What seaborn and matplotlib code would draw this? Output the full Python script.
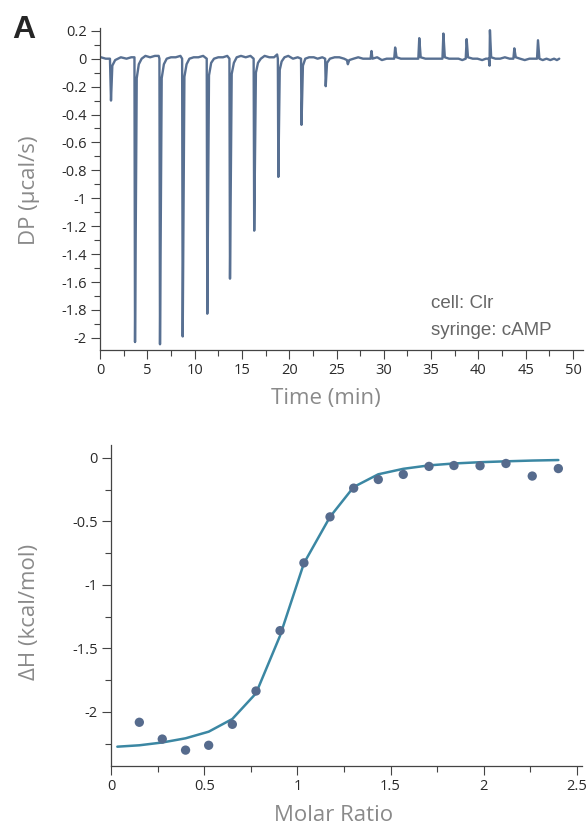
import numpy as np
import pandas as pd
import matplotlib
matplotlib.use('Agg')
import matplotlib.pyplot as plt
import seaborn as sns
from matplotlib.ticker import MultipleLocator

# raw thermogram (DP vs time), vertices
dp_time = [
    0.1, 0.6, 1.05, 1.16, 1.3, 1.6, 2.2, 2.8, 3.3, 3.64,
    3.70, 3.88, 4.1, 4.4, 4.8, 5.3, 5.8, 6.2, 6.28,
    6.34, 6.52, 6.75, 7.05, 7.5, 8.0, 8.5, 8.68,
    8.74, 8.92, 9.15, 9.45, 9.9, 10.4, 10.9, 11.28,
    11.34, 11.52, 11.75, 12.05, 12.5, 13.0, 13.45, 13.68,
    13.74, 13.92, 14.15, 14.45, 14.9, 15.4, 15.9, 16.24,
    16.3, 16.48, 16.7, 17.0, 17.4, 17.9, 18.4, 18.72, 18.8,
    18.85, 19.0, 19.2, 19.5, 19.9, 20.4, 20.9, 21.25,
    21.3, 21.45, 21.7, 22.1, 22.6, 23.0, 23.5, 23.8,
    23.86, 24.0, 24.3, 24.8, 25.3, 25.8, 26.1, 26.2, 26.35, 26.8,
    27.3, 27.8, 28.3, 28.6, 28.7, 28.8, 29.3, 29.8, 30.3, 30.8,
    31.1, 31.2, 31.35, 31.8, 32.3, 32.8, 33.3, 33.65, 33.75, 33.9,
    34.4, 34.9, 35.4, 35.9, 36.2, 36.3, 36.45, 36.9, 37.4, 37.9,
    38.3, 38.66, 38.76, 38.9, 39.4, 39.9, 40.4, 40.8, 41.1, 41.18,
    41.22, 41.35, 41.8, 42.3, 42.8, 43.3, 43.7, 43.8, 43.95, 44.4,
    44.9, 45.4, 45.9, 46.2, 46.3, 46.45, 46.8, 47.2, 47.6, 48.0,
    48.3, 48.55,
]
dp_value = [
    0.01, 0.0, 0.0, -0.30, -0.05, -0.01, 0.01, 0.0, 0.01, 0.01,
    -2.03, -0.14, -0.04, 0.0, 0.02, 0.01, 0.02, 0.02, 0.0,
    -2.046, -0.14, -0.04, 0.0, 0.01, 0.01, 0.02, 0.0,
    -1.99, -0.13, -0.04, 0.0, 0.01, 0.01, 0.02, 0.0,
    -1.827, -0.12, -0.03, 0.0, 0.01, 0.01, 0.02, 0.0,
    -1.576, -0.11, -0.03, 0.01, 0.02, 0.01, 0.02, 0.0,
    -1.232, -0.10, -0.03, 0.0, 0.02, 0.01, 0.01, 0.03, 0.0,
    -0.847, -0.08, -0.02, 0.01, 0.02, 0.0, 0.01, 0.0,
    -0.474, -0.05, 0.0, 0.01, 0.01, 0.0, 0.01, 0.0,
    -0.197, -0.03, 0.0, 0.01, 0.01, 0.0, -0.01, -0.04, -0.01, 0.0,
    0.01, 0.0, 0.0, 0.0, 0.055, 0.0, 0.01, -0.01, 0.0, 0.0,
    0.0, 0.08, 0.01, 0.0, 0.0, 0.0, 0.0, 0.0, 0.147, 0.01,
    0.0, 0.0, 0.0, 0.0, 0.0, 0.18, 0.01, 0.0, 0.0, 0.0,
    -0.01, 0.0, 0.14, 0.01, 0.0, 0.0, -0.01, 0.0, 0.0, -0.05,
    0.204, 0.01, 0.0, 0.0, 0.01, 0.0, 0.0, 0.074, 0.01, 0.0,
    -0.01, 0.0, 0.0, 0.0, 0.132, 0.0, -0.01, 0.0, -0.01, 0.0,
    -0.01, 0.0,
]

# integrated heats
molar_ratio = [0.152, 0.275, 0.40, 0.524, 0.651, 0.778, 0.907, 1.035, 1.175,
               1.302, 1.434, 1.568, 1.706, 1.84, 1.98, 2.119, 2.26, 2.40]
delta_h = [-2.081, -2.213, -2.30, -2.262, -2.097, -1.835, -1.36, -0.827, -0.465,
           -0.239, -0.171, -0.131, -0.068, -0.061, -0.063, -0.045, -0.144, -0.085]

# fitted curve
fit_ratio = [0.034, 0.152, 0.275, 0.40, 0.524, 0.651, 0.778, 0.907, 1.035, 1.175,
             1.302, 1.434, 1.568, 1.706, 1.84, 1.98, 2.119, 2.26, 2.40]
fit_dh = [-2.273, -2.262, -2.24, -2.207, -2.155, -2.055, -1.853, -1.40, -0.83, -0.465,
          -0.23, -0.13, -0.087, -0.06, -0.045, -0.035, -0.028, -0.022, -0.018]

dp_ticks = [-2, -1.8, -1.6, -1.4, -1.2, -1, -0.8, -0.6, -0.4, -0.2, 0, 0.2]
dh_ticks = [-2, -1.5, -1, -0.5, 0]
ratio_ticks = [0, 0.5, 1, 1.5, 2, 2.5]

trace_color = '#587092'
point_color = '#566b8d'
fit_color = '#3b87a3'
label_color = '#8a8a8a'
tick_color = '#2a2a2a'

sns.set_style('ticks')
plt.rcParams['font.family'] = ['Open Sans', 'DejaVu Sans']
plt.rcParams['axes.linewidth'] = 0.9
plt.rcParams['axes.edgecolor'] = '#444444'

fig = plt.figure(figsize=(5.87, 8.3), dpi=100)
ax1 = fig.add_axes([0.1704, 0.5783, 0.8228, 0.388])
ax2 = fig.add_axes([0.1891, 0.0771, 0.8024, 0.3867])

# --- top: raw thermogram
df_dp = pd.DataFrame({'time': dp_time, 'dp': dp_value})
sns.lineplot(data=df_dp, x='time', y='dp', ax=ax1, color=trace_color,
             lw=1.7, sort=False, estimator=None)
ax1.set_xlim(0, 51.06)
ax1.set_ylim(-2.087, 0.22)
ax1.xaxis.set_minor_locator(MultipleLocator(2.5))
ax1.yaxis.set_minor_locator(MultipleLocator(0.1))
ax1.set_xticks(np.arange(0, 51, 5))
ax1.set_yticks(dp_ticks)
ax1.set_yticklabels(['{:g}'.format(v) for v in dp_ticks])
ax1.set_xlabel('Time (min)', fontsize=16, color=label_color)
ax1.set_ylabel('DP (µcal/s)', fontsize=16, color=label_color)
ax1.xaxis.set_label_coords(0.468, -0.118)
ax1.yaxis.set_label_coords(-0.124, 0.497)
ax1.text(0.685, 0.132, 'cell: Clr', transform=ax1.transAxes, ha='left',
         va='baseline', fontsize=13.5, color='#666666', family='Liberation Sans')
ax1.text(0.685, 0.047, 'syringe: cAMP', transform=ax1.transAxes, ha='left',
         va='baseline', fontsize=13.5, color='#666666', family='Liberation Sans')

# --- bottom: binding isotherm
df_pts = pd.DataFrame({'ratio': molar_ratio, 'dh': delta_h})
df_fit = pd.DataFrame({'ratio': fit_ratio, 'dh': fit_dh})
sns.lineplot(data=df_fit, x='ratio', y='dh', ax=ax2, color=fit_color,
             lw=1.8, sort=False, estimator=None)
sns.scatterplot(data=df_pts, x='ratio', y='dh', ax=ax2, color=point_color,
                s=45, edgecolor='none', zorder=3)
ax2.set_xlim(0, 2.527)
ax2.set_ylim(-2.425, 0.10)
ax2.xaxis.set_minor_locator(MultipleLocator(0.25))
ax2.yaxis.set_minor_locator(MultipleLocator(0.25))
ax2.set_xticks(ratio_ticks)
ax2.set_xticklabels(['{:g}'.format(v) for v in ratio_ticks])
ax2.set_yticks(dh_ticks)
ax2.set_yticklabels(['{:g}'.format(v) for v in dh_ticks])
ax2.set_xlabel('Molar Ratio', fontsize=16, color=label_color)
ax2.set_ylabel('ΔH (kcal/mol)', fontsize=16, color=label_color)
ax2.xaxis.set_label_coords(0.472, -0.121)
ax2.yaxis.set_label_coords(-0.151, 0.48)

for ax in (ax1, ax2):
    sns.despine(ax=ax)
    ax.tick_params(which='major', length=6.5, width=0.8, color='#444444',
                   labelsize=10.5, labelcolor=tick_color, pad=3)
    ax.tick_params(which='minor', length=4.3, width=0.8, color='#444444')

fig.text(0.02, 0.982, 'A', fontsize=23, fontweight='bold', va='top',
         ha='left', family='Liberation Sans')

fig.savefig('out.png', dpi=100)
